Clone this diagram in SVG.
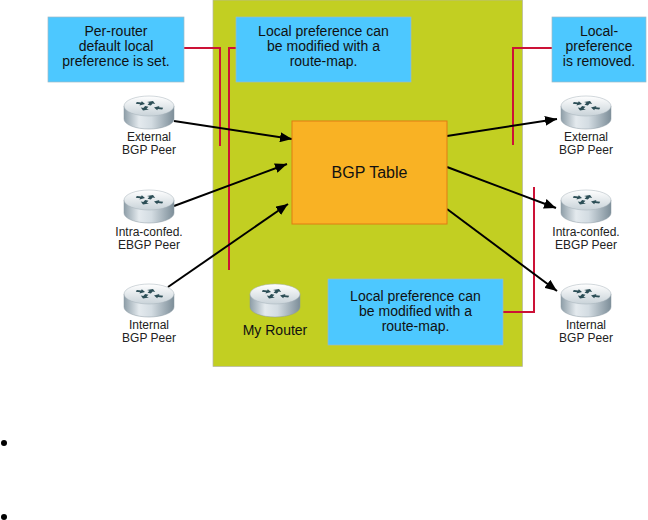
<svg xmlns="http://www.w3.org/2000/svg" width="648" height="520" viewBox="0 0 648 520">
<style>
text{font-family:"Liberation Sans",Arial,sans-serif;fill:#111;text-anchor:middle}
.co{fill:#4DC8FF;stroke:#9fb9c6;stroke-width:0.7}
.ct{font-size:14px}
.pl{font-size:12px;fill:#222}
.red{fill:none;stroke:#CC1236;stroke-width:2}
.arr{fill:none;stroke:#000;stroke-width:2;marker-end:url(#ah)}
</style>
<defs>
<marker id="ah" markerUnits="userSpaceOnUse" markerWidth="13" markerHeight="10" refX="12" refY="5" orient="auto">
<path d="M0,0 L12,5 L0,10 Z" fill="#000"/>
</marker>
<linearGradient id="body" x1="0" y1="0" x2="1" y2="0">
<stop offset="0" stop-color="#8e9ea8"/>
<stop offset="0.3" stop-color="#e4eaee"/>
<stop offset="0.55" stop-color="#d3dce2"/>
<stop offset="1" stop-color="#7d8e99"/>
</linearGradient>
<linearGradient id="top" x1="0" y1="0" x2="0" y2="1">
<stop offset="0" stop-color="#ffffff"/>
<stop offset="1" stop-color="#c9d3d9"/>
</linearGradient>
<path id="a" d="M-9,-1.8 H-4.5 V-4.5 L0,0 L-4.5,4.5 V1.8 H-9 Z"/>
<g id="rtr">
<path d="M0,10 V23 A25,10 0 0 0 50,23 V10 Z" fill="url(#body)" stroke="#8a99a2" stroke-width="0.5"/>
<ellipse cx="25" cy="10" rx="25" ry="10" fill="url(#top)" stroke="#a5b1b8" stroke-width="0.5"/>
<g transform="translate(25,10) scale(1,0.5)" fill="#2c4e56">
<use href="#a" transform="translate(-4,-4) rotate(15)"/>
<use href="#a" transform="translate(5,3) rotate(195)"/>
<use href="#a" transform="translate(4,-10) rotate(-65)"/>
<use href="#a" transform="translate(-6,9) rotate(115)"/>
</g>
</g>
</defs>
<rect width="648" height="520" fill="#fff"/>
<g id="panel">
<rect x="213" y="0" width="309.5" height="366.5" fill="#C2CF22" stroke="#b4b4a8" stroke-width="0.7"/>
</g>
<g id="connectors">
<polyline class="red" points="184,48 220,48 220,146"/>
<polyline class="red" points="236,48 229,48 229,270"/>
<polyline class="red" points="552,48 513,48 513,145"/>
<polyline class="red" points="503,312 534,312 534,187"/>
<line class="arr" x1="174" y1="121" x2="292" y2="139"/>
<line class="arr" x1="174" y1="206" x2="287" y2="164"/>
<line class="arr" x1="168" y1="287" x2="288" y2="204"/>
<line class="arr" x1="447" y1="136" x2="557" y2="119"/>
<line class="arr" x1="447" y1="167" x2="556" y2="208"/>
<line class="arr" x1="447" y1="209" x2="557" y2="291"/>
</g>
<g id="note-default">
<rect class="co" x="48" y="17" width="136" height="65"/>
<text class="ct" x="116" y="36">Per-router</text>
<text class="ct" x="116" y="51">default local</text>
<text class="ct" x="116" y="66">preference is set.</text>
</g>
<g id="note-modify-in">
<rect class="co" x="236" y="17" width="175" height="65"/>
<text class="ct" x="323.5" y="36">Local preference can</text>
<text class="ct" x="323.5" y="51">be modified with a</text>
<text class="ct" x="323.5" y="66">route-map.</text>
</g>
<g id="note-removed">
<rect class="co" x="552" y="17" width="94" height="65"/>
<text class="ct" x="599" y="36">Local-</text>
<text class="ct" x="599" y="51">preference</text>
<text class="ct" x="599" y="66">is removed.</text>
</g>
<g id="note-modify-out">
<rect class="co" x="328" y="279" width="175" height="66"/>
<text class="ct" x="415.5" y="301">Local preference can</text>
<text class="ct" x="415.5" y="316">be modified with a</text>
<text class="ct" x="415.5" y="331">route-map.</text>
</g>
<g id="bgp-table">
<rect x="292" y="121" width="155" height="103" fill="#F9B224" stroke="#E07C12" stroke-width="1"/>
<text x="369.5" y="178" style="font-size:16px">BGP Table</text>
</g>
<g id="in-external">
<use href="#rtr" x="124" y="96"/>
<text class="pl" x="149" y="141">External</text>
<text class="pl" x="149" y="154">BGP Peer</text>
</g>
<g id="in-intra">
<use href="#rtr" x="124" y="190"/>
<text class="pl" x="149" y="236">Intra-confed.</text>
<text class="pl" x="149" y="249">EBGP Peer</text>
</g>
<g id="in-internal">
<use href="#rtr" x="124" y="284"/>
<text class="pl" x="149" y="329">Internal</text>
<text class="pl" x="149" y="342">BGP Peer</text>
</g>
<g id="my-router">
<use href="#rtr" x="250" y="284"/>
<text class="ct" x="275" y="335">My Router</text>
</g>
<g id="out-external">
<use href="#rtr" x="561" y="96"/>
<text class="pl" x="586" y="141">External</text>
<text class="pl" x="586" y="154">BGP Peer</text>
</g>
<g id="out-intra">
<use href="#rtr" x="561" y="190"/>
<text class="pl" x="586" y="236">Intra-confed.</text>
<text class="pl" x="586" y="249">EBGP Peer</text>
</g>
<g id="out-internal">
<use href="#rtr" x="561" y="284"/>
<text class="pl" x="586" y="329">Internal</text>
<text class="pl" x="586" y="342">BGP Peer</text>
</g>
<g id="bullets">
<circle cx="4" cy="443" r="3" fill="#000"/>
<circle cx="4" cy="517" r="3" fill="#000"/>
</g>
</svg>
